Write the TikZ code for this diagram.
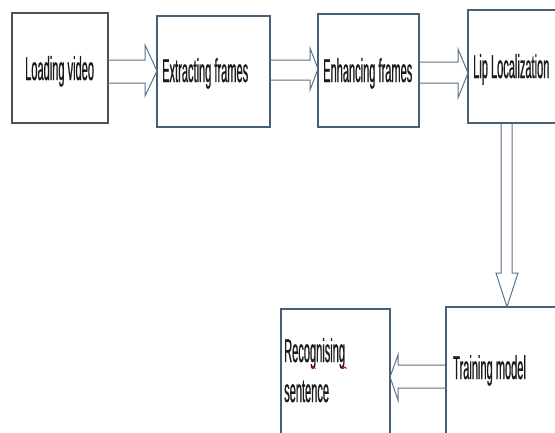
\documentclass[tikz,border=0pt]{standalone}
\usepackage{fontspec}
\newfontfamily\nar[FakeStretch=0.335,FakeBold=0.6]{Liberation Sans}
\definecolor{boxc}{HTML}{46607A}
\definecolor{boxg}{HTML}{505050}
\definecolor{arrc}{HTML}{5B7286}
\definecolor{txt}{HTML}{1A1A1A}
\begin{document}
\begin{tikzpicture}[x=1pt,y=-1pt,
  box/.style={draw=boxc, line width=1.3pt, inner sep=0, outer sep=0, anchor=north west},
  lbl/.style={font=\nar\fontsize{33}{40}\selectfont, text=txt, anchor=base west, inner sep=0},
  blk/.style={draw=arrc, line width=1pt, line join=miter}]
\useasboundingbox (0,0) rectangle (555,432);
\clip (0,0) rectangle (555,432);
% boxes
\node[box, draw=boxg, minimum width=96pt, minimum height=110pt] (b1) at (12,13) {};
\node[box, minimum width=113pt, minimum height=111pt] (b2) at (157,16) {};
\node[box, minimum width=101pt, minimum height=113pt] (b3) at (318,14) {};
\node[box, minimum width=100pt, minimum height=113pt] (b4) at (468,10) {};
\node[box, minimum width=120pt, minimum height=140pt] (b5) at (446,307) {};
\node[box, minimum width=109pt, minimum height=140pt] (b6) at (281,309) {};
% labels
\node[lbl] (t1) at (25,80) {Loading video};
\node[lbl] (t2) at (162,82) {Extracting frames};
\node[lbl] (t3) at (323,82) {Enhancing frames};
\node[lbl] (t4) at (473,78) {Lip Localization};
\node[lbl] (t5) at (453,379) {Training model};
\node[lbl] (t6) at (284,362) {Recognising};
\node[lbl] (t7) at (284,402) {sentence};
% spell-check marks
\draw[red!85!black, line width=1pt] (311,367) -- (312.5,368.5) -- (314,367) -- (315.5,368.5);
\draw[red!85!black, line width=1pt] (342,367) -- (343.5,368.5) -- (345,367) -- (346.5,368.5);
% block arrows
\draw[blk] (b1.east |- 0,60) -- (145,60) -- (145,45) -- (b2.west |- 0,71) -- (145,96) -- (145,83) -- (b1.east |- 0,83);
\draw[blk] (b2.east |- 0,60) -- (310,60) -- (310,48) -- (b3.west |- 0,69) -- (310,90) -- (310,80) -- (b2.east |- 0,80);
\draw[blk] (b3.east |- 0,62) -- (458,62) -- (458,49) -- (b4.west |- 0,73) -- (458,98) -- (458,83) -- (b3.east |- 0,83);
\draw[blk] (501,0 |- b4.south) -- (501,273) -- (496,273) -- (507,0 |- b5.north) -- (518,273) -- (512,273) -- (512,0 |- b4.south);
\draw[blk] (b5.west |- 0,365) -- (398,365) -- (398,355) -- (b6.east |- 0,377) -- (398,400) -- (398,388) -- (b5.west |- 0,388);
\end{tikzpicture}
\end{document}
